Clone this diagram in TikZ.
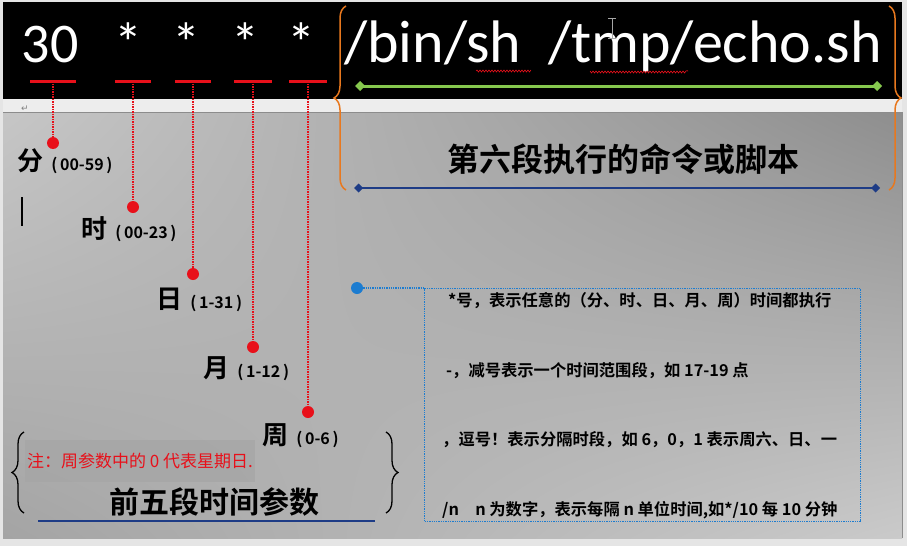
\documentclass[tikz,border=0pt]{standalone}
\usepackage{fontspec}
\usetikzlibrary{positioning,arrows.meta,shadings,decorations.pathreplacing,decorations.pathmorphing}
\newfontfamily\topfont{Carlito}
\newfontfamily\zh{Noto Sans CJK SC}[BoldFont={Noto Sans CJK SC Bold}]
\newfontfamily\symfont{DejaVu Sans}
\definecolor{cronred}{HTML}{E8101A}
\definecolor{braceorange}{HTML}{E8781E}
\definecolor{linegreen}{HTML}{86C84E}
\definecolor{navy}{HTML}{1E3C86}
\definecolor{dotblue}{HTML}{1C7CD0}
\definecolor{panelA}{HTML}{C6C6C6}
\definecolor{panelB}{HTML}{8E8E8E}
\definecolor{panelC}{HTML}{A4A4A4}
\definecolor{panelD}{HTML}{CACACA}
\tikzset{
  field/.style={text=white,font=\topfont\fontsize{56}{56}\selectfont,anchor=base,inner sep=0pt},
  unit/.style={font=\zh\bfseries\fontsize{26}{26}\selectfont,inner sep=0pt},
  rangelbl/.style={font=\zh\bfseries\fontsize{16}{16}\selectfont,inner sep=0pt},
  reddot/.style={circle,fill=cronred,inner sep=0pt,minimum size=12pt},
  lead/.style={cronred,densely dotted,line width=1.5pt},
  note/.style={font=\zh\bfseries\fontsize{16.3}{16.3}\selectfont,anchor=west,inner sep=0pt},
  curly/.style={decorate,decoration={brace,amplitude=#1}},
}
\begin{document}
\begin{tikzpicture}[x=1pt,y=-1pt]
  \useasboundingbox (0,0) rectangle (907,546);
  % frame, black band and grey panel
  \fill[black!10] (0,0) rectangle (907,546);
  \fill[black] (3,2) rectangle (902,99);
  \fill[black!7] (3,99) rectangle (902,112);
  \shade[upper left=panelA,upper right=panelB,lower left=panelC,lower right=panelD] (3,113) rectangle (902,538);
  \draw[black!45,line width=1pt] (3,112.5) -- (902,112.5) -- (902,538);
  \node[text=gray,font=\symfont\fontsize{9}{9}\selectfont] (ret) at (25,109) {↵};

  % the five time fields
  \foreach \x/\t/\n in {50/30/a,128/*/b,186/*/c,245/*/d,301/*/e}
    \node[field] (f\n) at (\x,62) {\t};
  \foreach \x/\w/\y/\n in {53/23/143/a,133/18/207/b,193/18/274/c,253/19/347/d,308/19/412/e}{
    \draw[cronred,line width=3pt] (\x-\w,81) -- (\x+\w,81);
    \coordinate (d\n) at (\x,81);
    \node[reddot] (p\n) at (\x,\y) {};
    \draw[lead] (d\n) -- (p\n);
  }
  \foreach \u/\r/\x/\y/\n in {分/00-59/30/161/a,时/00-23/94/229/b,日/1-31/169/299/c,月/1-12/216/368/d,周/0-6/275/435/e}{
    \node[unit] (u\n) at (\x,\y) {\u};
    \node[rangelbl,right=8pt of u\n,yshift=-4pt] (r\n) {(\,\r\,)};
  }
  \draw[line width=1.3pt] (22,197) -- (22,226);

  % note and first five fields
  \node[fill=gray!70,opacity=.8,text opacity=1,text=cronred,font=\zh\fontsize{17}{17}\selectfont,minimum width=230pt,minimum height=42pt,inner sep=2pt] (zhu) at (140,461) {注：周参数中的 0 代表星期日.};
  \draw[line width=1.3pt,curly=12pt] (24,513) -- (24,432);
  \draw[line width=1.3pt,curly=12pt] (386,432) -- (386,513);
  \node[font=\zh\bfseries\fontsize{30}{30}\selectfont] (wuduan) at (214,502) {前五段时间参数};
  \draw[navy,line width=2pt] (38,521) -- (375,521);

  % command part
  \node[field,anchor=base west,font=\topfont\fontsize{60}{60}\selectfont] (cmd) at (344,62) {/bin/sh\ \ /tmp/echo.sh};
  \draw[cronred,line width=.6pt,decorate,decoration={snake,amplitude=1pt,segment length=3pt}] (476,71) -- (530,71) (590,71) -- (688,71);
  \draw[gray!70,line width=1pt] (612,18) -- (612,38) (608,18) -- (616,18) (608,38) -- (616,38);
  \draw[linegreen,line width=3pt,{Diamond[length=10pt,width=10pt]}-{Diamond[length=10pt,width=10pt]}] (355,86) -- (882,86);
  \draw[braceorange,line width=1.5pt,curly=12pt] (346,190) -- (346,6);
  \draw[braceorange,line width=1.5pt,curly=12pt] (889,6) -- (889,190);
  \node[font=\zh\bfseries\fontsize{32}{32}\selectfont] (liuduan) at (623,159) {第六段执行的命令或脚本};
  \draw[navy,line width=2pt,{Diamond[length=9pt,width=9pt]}-{Diamond[length=9pt,width=9pt]}] (354,188) -- (880,188);

  % special characters
  \node[circle,fill=dotblue,minimum size=12pt,inner sep=0pt] (bd) at (357,288) {};
  \node[draw=dotblue,densely dotted,line width=1.3pt,minimum width=436pt,minimum height=233pt,anchor=north west,inner sep=0pt] (rules) at (424,288) {};
  \draw[dotblue,densely dotted,line width=1.3pt] (bd) -- (rules.north west);
  \node[note] (l1) at (448,301) {*号，表示任意的（分、时、日、月、周）时间都执行};
  \node[note] (l2) at (446,371) {-，减号表示一个时间范围段，如 17-19 点};
  \node[note] (l3) at (442,440) {，逗号！表示分隔时段，如 6，0，1 表示周六、日、一};
  \node[note] (l4) at (442,510) {/n\quad n 为数字，表示每隔 n 单位时间,如*/10 每 10 分钟};
\end{tikzpicture}
\end{document}
